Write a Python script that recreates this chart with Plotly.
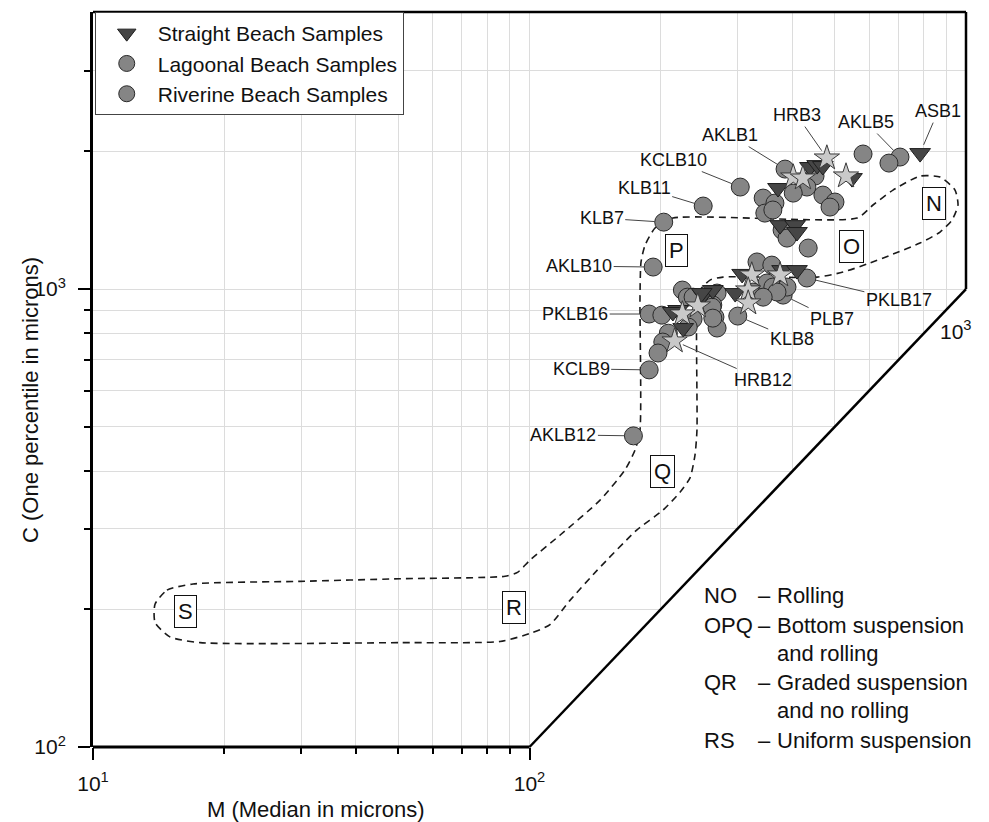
import numpy as np
import plotly.graph_objects as go

# ---------------- data (M = median, C = one percentile, microns) ----------------
straight_M = [785, 439, 456, 470, 548, 371, 375, 406, 410, 250, 219, 225, 213, 263, 248, 296, 307, 379, 410]
straight_C = [1981, 1847, 1865, 1856, 1747, 1662, 1379, 1379, 1332, 970, 900, 822, 891, 995, 980, 980, 1079, 1100, 1100]

lagoonal_M = [581, 706, 666, 385, 451, 432, 304, 250, 203, 343, 365, 402, 470, 501, 488, 346, 361, 379, 389, 435, 192,
              188, 201, 224, 230, 237, 269, 263, 266, 269, 237, 231, 208, 202, 197, 188, 332, 359, 432, 325, 350, 371,
              381, 300, 350, 361, 389, 369, 343, 173, 262, 263]
lagoonal_C = [1972, 1942, 1884, 1828, 1765, 1670, 1670, 1518, 1400, 1580, 1541, 1620, 1604, 1549, 1510, 1465, 1488, 1345,
              1292, 1229, 1117, 882, 877, 995, 960, 960, 980, 923, 869, 822, 860, 826, 801, 766, 725, 666, 1146, 1128,
              1057, 985, 985, 995, 970, 873, 1031, 1010, 1010, 985, 960, 478, 913, 864]

riverine_M = [480, 531, 402, 423, 243, 224, 215, 323, 375, 317, 317]
riverine_C = [1932, 1765, 1756, 1747, 918, 882, 770, 1073, 1073, 995, 932]

label_names = ["ASB1", "AKLB5", "HRB3", "AKLB1", "KCLB10", "KLB11", "KLB7", "AKLB10",
               "PKLB16", "KCLB9", "AKLB12", "PKLB17", "PLB7", "KLB8", "HRB12"]
label_M = [785, 706, 480, 385, 304, 250, 203, 192, 188, 188, 173, 432, 381, 300, 215]
label_C = [1981, 1942, 1932, 1828, 1670, 1518, 1400, 1117, 882, 666, 478, 1057, 970, 873, 770]

zone_names = ["N", "O", "P", "Q", "R", "S"]
zone_M = [845, 548, 216.6, 202.2, 92.2, 16.33]
zone_C = [1541, 1241, 1211, 398.6, 201.2, 198.1]

boundary_M = [13.87, 14.77, 16.95, 29.8, 50.5, 87.9, 94.1, 100.3, 117.4, 145.1, 165.5, 174.5, 179.1, 179.1, 180.1,
              184.0, 193.9, 213.2, 562.7, 612.3, 680.4, 784.6, 872.0, 943.7, 958.7, 928.9, 872.0, 784.6, 680.4,
              593.2, 522.8, 455.7, 277.5, 259.2, 245.8, 241.9, 241.9, 239.4, 233.2, 221.2, 202.2, 176.3, 142.8,
              123.8, 111.4, 100.3, 85.6, 50.5, 17.6, 15.0, 13.87, 13.87]
boundary_C = [205, 220, 227, 230, 233, 236, 241, 256, 290, 346, 403, 445, 492, 946, 1146, 1247, 1359, 1429, 1429,
              1526, 1645, 1765, 1756, 1645, 1526, 1415, 1332, 1260, 1192, 1134, 1089, 1062, 1062, 1046, 995, 923,
              492, 434, 387, 360, 329, 298, 243, 209, 185, 177, 170, 169, 169, 174, 187, 205]

x_grid_vals = [20, 30, 40, 50, 60, 70, 80, 90, 100, 200, 300, 400, 500, 600, 700, 800, 900]
x_minor_ticks = [20, 30, 40, 50, 60, 70, 80, 90]
x_major_ticks = [10, 100]
x_major_text = ["10<sup>1</sup>", "10<sup>2</sup>"]
y_major_ticks = [100, 1000]
y_major_text = ["10<sup>2</sup>", "10<sup>3</sup>"]
y_minor_ticks = [200, 300, 400, 500, 600, 700, 800, 900, 2000, 3000]

key_codes = ["NO", "OPQ", "", "QR", "", "RS"]
key_texts = ["Rolling", "Bottom suspension", "and rolling", "Graded suspension", "and no rolling", "Uniform suspension"]

# ---------------- layout geometry ----------------
# the page body has an 8px offset, so the figure is drawn 8px smaller with matching margins
OFF = 8
W, H = 989 - OFF, 822 - OFF
ML, MR, MT, MB = 93 - OFF, 23, 12 - OFF, 75
XR = [1.0, 3.0]
YR = [2.0, 3.605]
PW, PH = W - ML - MR, H - MT - MB
PLOT_LEFT, PLOT_BOTTOM = ML + OFF, MT + OFF + PH   # screen pixels


def px_x(px):
    return (px - PLOT_LEFT) / PW


def px_y(py):
    return (PLOT_BOTTOM - py) / PH


def pap_x(v):
    return (np.log10(v) - XR[0]) / (XR[1] - XR[0])


def pap_y(v):
    return (np.log10(v) - YR[0]) / (YR[1] - YR[0])


FONT = "Liberation Sans, Arial, Helvetica, sans-serif"

fig = go.Figure()

# white cover below the C = M line (hides grid there)
fig.add_trace(go.Scatter(x=[90, 1100, 1100, 90], y=[90, 1100, 90, 90], mode="lines", fill="toself",
                         fillcolor="white", line=dict(width=0, color="white"), showlegend=False, hoverinfo="skip"))

# dashed field boundary
fig.add_trace(go.Scatter(x=boundary_M, y=boundary_C, mode="lines",
                         line=dict(color="#1a1a1a", width=1.6, dash="7px,5px", shape="spline", smoothing=0.6),
                         showlegend=False, hoverinfo="skip"))

circle_marker = dict(symbol="circle", size=18, color="#858585", line=dict(color="#2a2a2a", width=1))

fig.add_trace(go.Scatter(x=lagoonal_M, y=lagoonal_C, mode="markers", name="Lagoonal Beach Samples",
                         marker=circle_marker, legendrank=2))
fig.add_trace(go.Scatter(x=straight_M, y=straight_C, mode="markers", name="Straight Beach Samples",
                         marker=dict(symbol="triangle-down", size=18, color="#464646",
                                     line=dict(color="#1e1e1e", width=1)), legendrank=1))
fig.add_trace(go.Scatter(x=riverine_M, y=riverine_C, mode="markers", name="Riverine Beach Samples",
                         marker=dict(symbol="star", size=19, color="#c9c9c9", line=dict(color="#3a3a3a", width=1)),
                         showlegend=False))
# legend entry for riverine (shown with a circle in the original key)
fig.add_trace(go.Scatter(x=[None], y=[None], mode="markers", name="Riverine Beach Samples",
                         marker=circle_marker, legendrank=3))

# dummy trace for the tick axis
fig.add_trace(go.Scatter(x=[10], y=[100], xaxis="x2", yaxis="y", mode="markers", marker=dict(opacity=0),
                         showlegend=False, hoverinfo="skip"))

annotations = []
# sample labels with leader lines
label_offsets = [(18, -42), (-34, -35), (-30, -43), (-55, -34), (-67, -27), (-59, -18), (-62, -4), (-74, -1),
                 (-74, 0), (-68, -1), (-70, -1), (92, 22), (49, 24), (54, 23), (88, 39)]
for name, m, c, (ax, ay) in zip(label_names, label_M, label_C, label_offsets):
    annotations.append(dict(x=np.log10(m), y=np.log10(c), xref="x", yref="y", text=name, showarrow=True,
                            arrowhead=0, arrowwidth=1, arrowcolor="#444", ax=ax, ay=ay, standoff=9,
                            font=dict(size=18, color="#111")))

# zone letters
for name, m, c in zip(zone_names, zone_M, zone_C):
    annotations.append(dict(x=np.log10(m), y=np.log10(c), xref="x", yref="y", text=name, showarrow=False,
                            xanchor="center", yanchor="middle",
                            font=dict(size=22, color="#111"), bordercolor="#111", borderwidth=1, borderpad=3,
                            bgcolor="white"))

# key text
key_rows_y = [595, 625, 653, 682, 710, 740]
for code, txt, py in zip(key_codes, key_texts, key_rows_y):
    if code:
        annotations.append(dict(x=px_x(702), y=px_y(py), xref="paper", yref="paper", text=code, showarrow=False,
                                xanchor="left", yanchor="middle", font=dict(size=22, color="#111")))
        annotations.append(dict(x=px_x(773), y=px_y(py), xref="paper", yref="paper", text="–", showarrow=False,
                                xanchor="right", yanchor="middle", font=dict(size=22, color="#111")))
    annotations.append(dict(x=px_x(775), y=px_y(py), xref="paper", yref="paper", text=txt, showarrow=False,
                            xanchor="left", yanchor="middle", font=dict(size=22, color="#111")))

# axis titles
annotations.append(dict(x=px_x(316), y=px_y(810), xref="paper", yref="paper", text="M (Median in microns)",
                        xanchor="center", yanchor="middle", showarrow=False, font=dict(size=22, color="#111")))
annotations.append(dict(x=px_x(30), y=px_y(400), xref="paper", yref="paper", text="C (One percentile in microns)",
                        xanchor="center", yanchor="middle", textangle=-90, showarrow=False,
                        font=dict(size=22, color="#111")))
# tick label on the diagonal (10^3)
annotations.append(dict(x=px_x(956), y=px_y(330), xref="paper", yref="paper", text="10<sup>3</sup>",
                        xanchor="center", yanchor="middle", showarrow=False, font=dict(size=21, color="#111")))

shapes = [
    dict(type="line", xref="paper", yref="paper", x0=0, y0=0, x1=pap_x(100), y1=0, line=dict(color="black", width=3)),
    dict(type="line", xref="paper", yref="paper", x0=0, y0=1, x1=1, y1=1, line=dict(color="black", width=2.5)),
    dict(type="line", xref="paper", yref="paper", x0=1, y0=pap_y(1000), x1=1, y1=1,
         line=dict(color="black", width=2.5)),
    dict(type="line", xref="paper", yref="paper", x0=pap_x(100), y0=pap_y(100), x1=1, y1=pap_y(1000),
         line=dict(color="black", width=2.5)),
]

fig.update_layout(
    width=W, height=H, margin=dict(l=ML, r=MR, t=MT, b=MB),
    plot_bgcolor="white", paper_bgcolor="white",
    font=dict(family=FONT, color="#111"),
    hovermode=False,
    xaxis=dict(type="log", range=XR, tickmode="array", tickvals=x_grid_vals, showticklabels=False, ticks="",
               showgrid=True, gridcolor="#dcdcdc", gridwidth=1, zeroline=False, showline=False),
    xaxis2=dict(type="log", range=XR, overlaying="x", anchor="y", side="bottom", tickmode="array",
                tickvals=x_major_ticks, ticktext=x_major_text, ticks="outside", ticklen=12, tickwidth=2,
                tickcolor="black", showgrid=False, zeroline=False, showline=False,
                tickfont=dict(size=21, color="#111"), ticklabelstandoff=6,
                minor=dict(tickmode="array", tickvals=x_minor_ticks, ticks="outside", ticklen=6, tickwidth=1.5,
                           tickcolor="black", showgrid=False)),
    yaxis=dict(type="log", range=YR, tickmode="array", tickvals=y_major_ticks, ticktext=y_major_text,
               ticks="outside", ticklen=12, tickwidth=2, tickcolor="black", showgrid=True, gridcolor="#dcdcdc",
               showline=True, linewidth=3, linecolor="black", zeroline=False,
               tickfont=dict(size=21, color="#111"), ticklabelstandoff=8,
               minor=dict(tickmode="array", tickvals=y_minor_ticks, ticks="outside", ticklen=6, tickwidth=1.5,
                          tickcolor="black", showgrid=True, gridcolor="#dcdcdc")),
    showlegend=True,
    legend=dict(x=0.002, y=1, xanchor="left", yanchor="top", bgcolor="white", bordercolor="#444", borderwidth=1,
                font=dict(size=21, color="#111"), tracegroupgap=0, itemwidth=52),
    annotations=annotations,
    shapes=shapes,
)

fig.write_html("out.html")
